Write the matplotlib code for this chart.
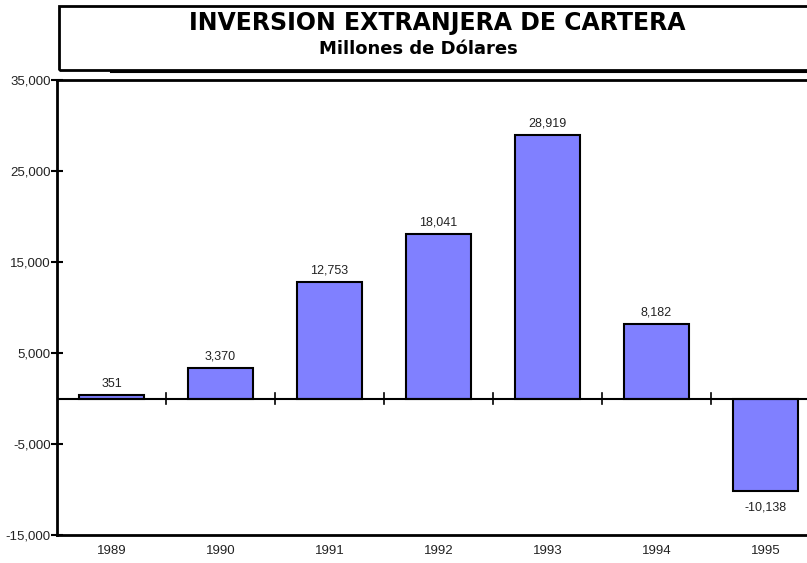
import matplotlib
matplotlib.use("Agg")
import matplotlib.pyplot as plt
from matplotlib.patches import Rectangle
from matplotlib.lines import Line2D

years = ["1989", "1990", "1991", "1992", "1993", "1994", "1995"]
values = [351, 3370, 12753, 18041, 28919, 8182, -10138]
y_ticks = [-15000, -5000, 5000, 15000, 25000, 35000]

plt.rcParams["font.family"] = ["Liberation Sans", "DejaVu Sans"]

W, H = 807, 563
fig = plt.figure(figsize=(W / 100, H / 100), dpi=100)

# axes run a little past the right edge of the figure
ax = fig.add_axes([57 / W, 1 - 535 / H, (820 - 57) / W, (535 - 80) / H])

x = list(range(len(years)))
ax.bar(x, values, width=0.59, color="#8080FF", edgecolor="black", linewidth=1.5, zorder=3)

for xi, v in zip(x, values):
    if v >= 0:
        ax.annotate(f"{v:,}", (xi, v), xytext=(0, 4), textcoords="offset points",
                    ha="center", va="bottom", fontsize=9, color="#222222")
    else:
        ax.annotate(f"{v:,}", (xi, v), xytext=(0, -8), textcoords="offset points",
                    ha="center", va="top", fontsize=9, color="#222222")

ax.set_xlim(-0.5, len(years) - 0.5)
ax.set_ylim(-15000, 35000)
ax.set_yticks(y_ticks)
ax.set_yticklabels([f"{t:,}" for t in y_ticks], fontsize=9.5, color="#222222")
ax.tick_params(axis="y", direction="inout", length=8, width=1.5, pad=0.5)

# no x ticks on the frame; category dividers sit on the zero line
ax.set_xticks(x)
ax.set_xticklabels(years, fontsize=9.5, color="#222222")
ax.tick_params(axis="x", length=0, pad=7)
ax.axhline(0, color="black", linewidth=1.5, zorder=4)
for b in range(1, len(years)):
    ax.plot([b - 0.5, b - 0.5], [-550, 550], color="black", linewidth=1.2, zorder=4)

for side in ["left", "top", "bottom"]:
    ax.spines[side].set_linewidth(2)
ax.spines["right"].set_visible(False)

# title box with a small shadow along the bottom
fig.patches.append(Rectangle((59 / W, 1 - 70 / H), (830 - 59) / W, (70 - 6) / H,
                             transform=fig.transFigure, fill=False,
                             edgecolor="black", linewidth=2))
fig.lines.append(Line2D([111 / W, 1.0], [1 - 71.5 / H, 1 - 71.5 / H],
                        transform=fig.transFigure, color="black", linewidth=1.5))
fig.text(437 / W, 1 - 23 / H, "INVERSION EXTRANJERA DE CARTERA",
         ha="center", va="center", fontsize=17, fontweight="bold", family="DejaVu Sans")
fig.text(418 / W, 1 - 49 / H, "Millones de Dólares",
         ha="center", va="center", fontsize=13, fontweight="bold", family="DejaVu Sans")

fig.savefig("out.png", dpi=100)
